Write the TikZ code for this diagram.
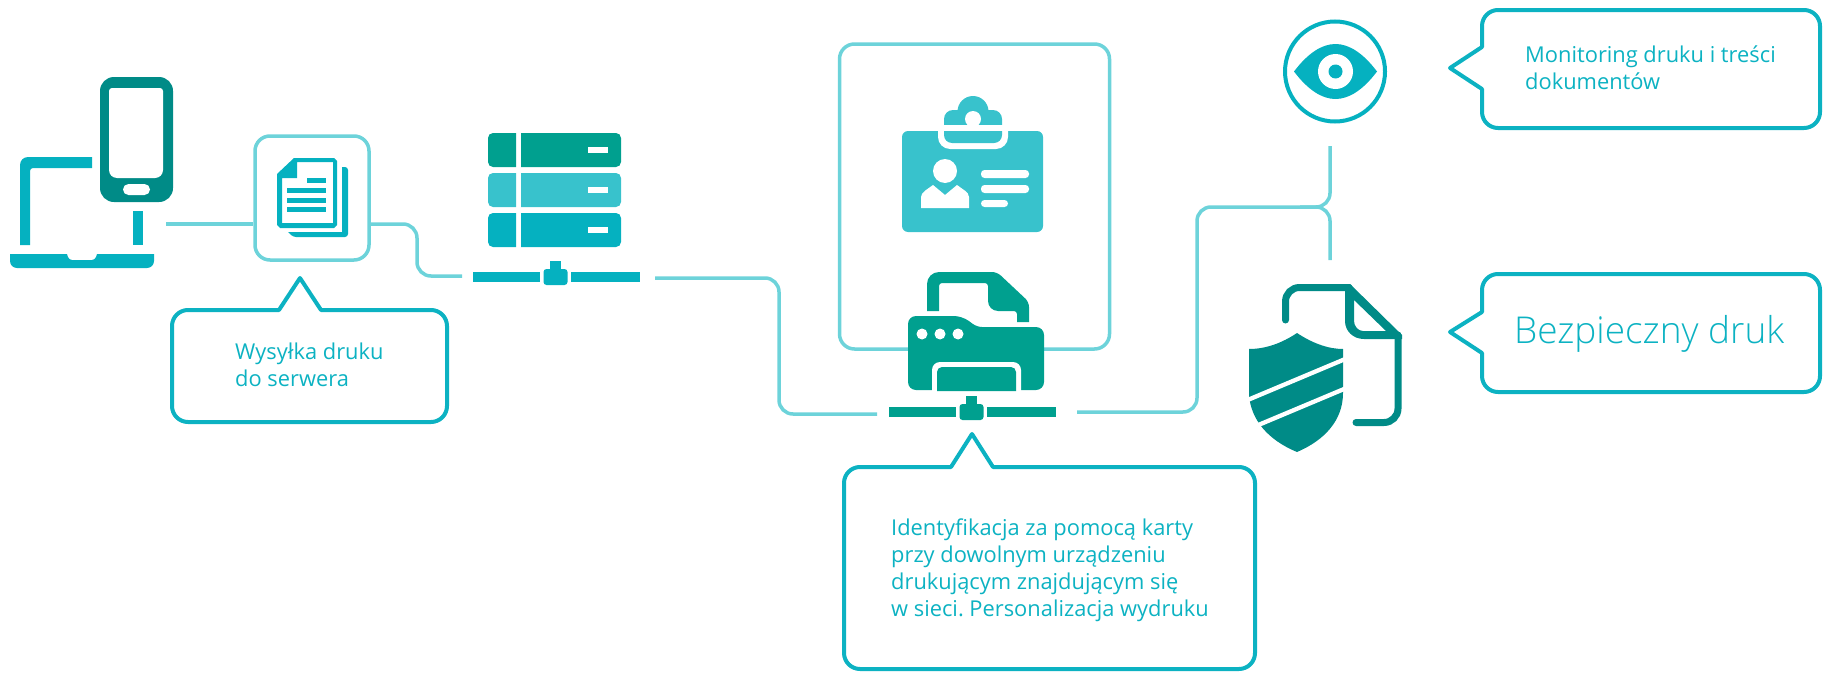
\documentclass[tikz,border=0pt]{standalone}
\usepackage{fontspec}
\setmainfont{Open Sans}
\newfontfamily\lightfont{Open Sans Light}
\usetikzlibrary{positioning}
\definecolor{linkc}{HTML}{6DD3DA}
\definecolor{callc}{HTML}{0CB2C2}
\definecolor{tealc}{HTML}{05B1C0}
\definecolor{darkc}{HTML}{008B87}
\definecolor{greenc}{HTML}{00A08F}
\definecolor{softc}{HTML}{38C2CC}
\tikzset{
  link/.style={draw=linkc, line width=3.5pt, rounded corners=14pt},
  framebox/.style={draw=linkc, line width=3.5pt, rounded corners=15pt, inner sep=0pt},
  callout/.style={draw=callc, line width=4pt, line join=round},
  calltext/.style={text=callc, anchor=north west, inner sep=0pt, align=left, font=\fontsize{21.85}{27}\selectfont\frenchspacing},
}
\newcommand{\netbar}[3]{%
  \begin{scope}[shift={(#1,#2)}]
    \fill[#3] (-82.5,-5) rectangle (-15.5,5);
    \fill[#3] (15.5,-5) rectangle (84.5,5);
    \fill[#3, rounded corners=3pt] (-12,-8) rectangle (12,8);
    \fill[#3] (-5.5,-16) rectangle (5.5,-6);
  \end{scope}}
\begin{document}
\begin{tikzpicture}[x=1pt,y=-1pt]
\useasboundingbox (0,0) rectangle (1831,680);

\node[framebox, minimum width=114pt, minimum height=124pt] (docbox) at (312,198) {};
\node[framebox, minimum width=270pt, minimum height=305pt] (cardbox) at (974.5,196.5) {};

\coordinate (laptopout) at (166,224);
\coordinate (srvin) at (462,276);
\coordinate (srvout) at (655,278);
\coordinate (prnin) at (877,414);
\coordinate (prnout) at (1077,412);
\coordinate (eyein) at (1330,146);
\coordinate (shieldin) at (1330,260);
\coordinate (fork) at (1330,207);
\coordinate (forkin) at (1300,207);

\draw[link] (laptopout) -- (laptopout -| docbox.west);
\draw[link] (laptopout -| docbox.east) -- (417,224) -- (417,276) -- (srvin);
\draw[link] (srvout) -- (779,278) -- (779,414) -- (prnin);
\draw[link] (prnout) -- (1197,412) -- (1197,207) -- (fork) -- (eyein);
\draw[link] (forkin) -- (fork) -- (shieldin);

% laptop and phone
\fill[tealc] (20,245) [rounded corners=8pt] -- (20,157) [sharp corners] -- (92,157) -- (92,168) [rounded corners=3pt] -- (30,168) [sharp corners] -- (30,245) -- cycle;
\fill[tealc] (133,211) rectangle (143,245);
\fill[tealc] (10,254) -- (67,254) [rounded corners=3pt] -- (69,260) -- (95,260) [sharp corners] -- (97,254) -- (154,254) [rounded corners=7pt] -- (154,268) -- (10,268) [sharp corners] -- cycle;
\fill[darkc, rounded corners=14pt] (100,77) rectangle (173,202);
\fill[white] (109,120) [rounded corners=3pt] -- (109,88) -- (163,88) [rounded corners=8pt] -- (163,178) -- (109,178) -- cycle;
\fill[white, rounded corners=5.5pt] (123,184) rectangle (150,195);

% document
\fill[tealc] (342,167) [rounded corners=3pt] -- (348,167) -- (348,237) -- (293,237) [sharp corners] -- (288,232) -- (342,232) -- cycle;
\fill[tealc, even odd rule] (294,158) -- (334,158) -- (337,161) -- (337,225) -- (334,228) -- (280,228) -- (277,225) -- (277,174) -- cycle
  (297,162) -- (297,178) -- (282,178) -- (282,223) -- (333,223) -- (333,162) -- cycle;
\foreach \ly in {188,198,207}
  \fill[tealc] (287,\ly) rectangle (326,\ly+5);
\fill[tealc] (307,178) rectangle (326,183);

% server
\foreach \ry/\rc in {133/greenc,173/softc,213/tealc} {
  \fill[\rc] (488,\ry+17) [rounded corners=5pt] -- (488,\ry) [sharp corners] -- (516,\ry) -- (516,\ry+34) [rounded corners=5pt] -- (488,\ry+34) -- cycle;
  \fill[\rc] (621,\ry+17) [rounded corners=5pt] -- (621,\ry+34) [sharp corners] -- (521,\ry+34) -- (521,\ry) [rounded corners=5pt] -- (621,\ry) -- cycle;
  \fill[white] (588,\ry+14) rectangle (608,\ry+20);
}
\netbar{555.5}{277}{tealc}

% id card
\fill[softc, rounded corners=6pt] (902,131) rectangle (1043,232);
\fill[white] (938,125) [rounded corners=12pt] -- (938,149) -- (1008,149) [sharp corners] -- (1008,125) -- cycle;
\fill[softc] (944,131) [rounded corners=8pt] -- (944,143) -- (1002,143) [sharp corners] -- (1002,131) -- cycle;
\begin{scope}
  \clip (930,90) rectangle (1020,124);
  \fill[softc] (973,111.5) circle (15.5);
  \fill[softc, rounded corners=9pt] (944,110) rectangle (1002,135);
  \fill[white] (973,119) circle (8);
\end{scope}
\fill[white] (945,171) circle (12);
\fill[white] (921,208) -- (921,197) .. controls (921,192) and (928,189) .. (933,185) -- (945,195) -- (957,185) .. controls (962,189) and (969,192) .. (969,197) -- (969,208) -- cycle;
\fill[white, rounded corners=3.5pt] (981,170) rectangle (1029,178);
\fill[white, rounded corners=3.5pt] (981,185) rectangle (1029,193);
\fill[white, rounded corners=3.5pt] (981,200) rectangle (1008,207);

% printer
\fill[greenc] (927,311) [rounded corners=12pt] -- (927,272) [rounded corners=5pt] -- (997,272) -- (1029,302) [sharp corners] -- (1029,322) -- (1017,322) [rounded corners=3pt] -- (1017,311) [rounded corners=10pt] -- (988,311) [rounded corners=3pt] -- (988,283) -- (939,283) [sharp corners] -- (939,311) -- cycle;
\fill[greenc] (908,350) [rounded corners=8pt] -- (908,316) -- (962,316) [rounded corners=5pt] -- (977,327) [rounded corners=8pt] -- (1044,327) -- (1044,390) -- (908,390) -- cycle;
\foreach \px in {922,940,958}
  \fill[white] (\px,334) circle (5.5);
\fill[white] (932,391) [rounded corners=8pt] -- (932,362) -- (1021,362) [sharp corners] -- (1021,391) -- cycle;
\fill[greenc] (937,391) [rounded corners=5pt] -- (937,367) -- (1016,367) [sharp corners] -- (1016,391) -- cycle;
\netbar{971.5}{412}{greenc}

% eye
\draw[tealc, line width=4pt] (1335,71.5) circle (50);
\fill[tealc] (1294,71.5) .. controls (1308,53) and (1322,44) .. (1335.5,44) .. controls (1349,44) and (1363,53) .. (1377,71.5) .. controls (1363,90) and (1349,99) .. (1335.5,99) .. controls (1322,99) and (1308,90) .. (1294,71.5) -- cycle;
\fill[white] (1335.5,71.5) circle (17.5);
\fill[tealc] (1335.5,71.5) circle (7);

% shield and file
\draw[darkc, line width=7pt, line cap=round, rounded corners=14pt] (1285.5,320) -- (1285.5,287.5) -- (1349,287.5);
\draw[darkc, line width=7pt, line cap=round, rounded corners=14pt] (1398,335) -- (1398,422.5) -- (1356,422.5);
\fill[darkc, even odd rule] (1345,284) -- (1350,284) -- (1402,335) -- (1402,339) -- (1364,339) .. controls (1353,339) and (1345,331) .. (1345,321) -- cycle
  (1354,300) -- (1386,331) -- (1363,331) .. controls (1358,331) and (1354,326) .. (1354,321) -- cycle;
\fill[darkc] (1297,333) .. controls (1282,343) and (1266,349) .. (1249,349) -- (1249,395) .. controls (1251,420) and (1268,440) .. (1297,452) .. controls (1325,440) and (1343,420) .. (1343,393) -- (1343,349) .. controls (1328,349) and (1312,343) .. (1297,333) -- cycle;
\draw[white, line width=4.3pt] (1240,403.2) -- (1350,357);
\draw[white, line width=4.3pt] (1250,428.5) -- (1350,386.5);

% callouts
\draw[callout] (279,310) -- (300,278) -- (321,310) [rounded corners=16pt] -- (447,310) -- (447,422) -- (172,422) -- (172,310) [sharp corners] -- cycle;
\node[calltext] (sendtext) at (235,342.5) {Wysyłka druku\\do serwera};

\draw[callout] (951,467) -- (972,434) -- (993,467) [rounded corners=16pt] -- (1255,467) -- (1255,669) -- (844,669) -- (844,467) [sharp corners] -- cycle;
\node[calltext] (idtext) at (891,518.5) {Identyfikacja za pomocą karty\\przy dowolnym urządzeniu\\drukującym znajdującym się\\w sieci. Personalizacja wydruku};

\draw[callout] (1482,47) -- (1450,68) -- (1482,89) [rounded corners=16pt] -- (1482,128) -- (1820,128) -- (1820,10) -- (1482,10) [sharp corners] -- cycle;
\node[calltext] (monitext) at (1525,45.5) {Monitoring druku i treści\\dokumentów};

\draw[callout] (1482,312) -- (1450,332) -- (1482,353) [rounded corners=16pt] -- (1482,392) -- (1820,392) -- (1820,274) -- (1482,274) [sharp corners] -- cycle;
\node[calltext, font=\fontsize{37}{42}\selectfont\lightfont] (safetext) at (1514,315) {Bezpieczny druk};
\end{tikzpicture}
\end{document}
